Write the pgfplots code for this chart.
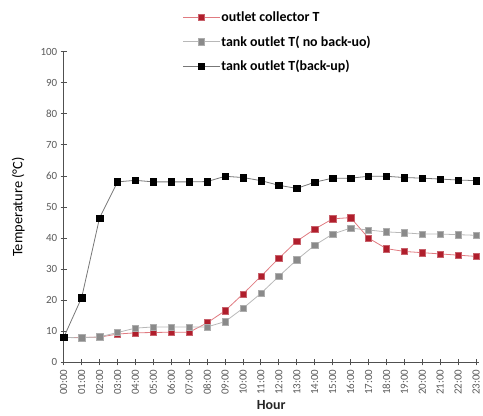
\documentclass[border=0pt]{standalone}
\usepackage{pgfplots}
\pgfplotsset{compat=1.18}
\usepackage{fontspec}
\setmainfont{Carlito}
\definecolor{redm}{HTML}{B01E2C}
\definecolor{redl}{HTML}{E07A80}
\definecolor{graym}{HTML}{8A8A8A}
\definecolor{grayl}{HTML}{B8B8B8}
\definecolor{blkl}{HTML}{777777}
\definecolor{axc}{HTML}{505050}
\definecolor{tickc}{HTML}{5A5A5A}
\begin{document}
\begin{tikzpicture}
\begin{axis}[
  scale only axis,
  width=417pt, height=312pt,
  xmin=0, xmax=23.15, ymin=0, ymax=100,
  axis lines*=left,
  axis line style={axc, line width=1.2pt},
  every tick/.style={axc, line width=0.9pt},
  tick align=center,
  major tick length=6pt,
  xtick={0,...,23},
  xticklabels={00:00,01:00,02:00,03:00,04:00,05:00,06:00,07:00,08:00,09:00,10:00,11:00,12:00,13:00,14:00,15:00,16:00,17:00,18:00,19:00,20:00,21:00,22:00,23:00},
  x tick label style={rotate=90, anchor=east, font=\fontsize{11}{12}\selectfont, text=tickc, xshift=-1pt},
  ytick={0,10,...,100},
  y tick label style={font=\fontsize{11}{12}\selectfont, text=tickc},
  /pgf/number format/assume math mode=true,
  xlabel={\textbf{Hour}},
  xlabel style={font=\fontsize{14}{16}\selectfont, text=black!85, yshift=1pt},
  ylabel={Temperature (°C)},
  ylabel style={font=\fontsize{14.5}{16}\selectfont, yshift=9pt},
  clip=false,
  legend cell align=left,
  legend style={at={(0.279,1.14)}, anchor=north west, draw=none, fill=none,
    font=\fontsize{14}{16}\selectfont\bfseries, row sep=11pt,
    nodes={inner sep=1pt}},
  legend image code/.code={
    \draw[#1, mark=none] (0pt,0pt) -- (37pt,0pt);
    \draw[#1, only marks] plot coordinates {(18pt,0pt)};
  },
]
\addplot[redl, line width=0.8pt, mark=square*, mark size=3.2pt, mark options={fill=redm, draw=redm!70!white, line width=0.4pt}]
coordinates {
(0,8) (1,8) (2,8.1) (3,9.1) (4,9.5) (5,9.6) (6,9.7) (7,9.7) (8,12.7) (9,16.6) (10,22) (11,27.7)
(12,33.5) (13,39) (14,42.9) (15,46.2) (16,46.6) (17,40) (18,36.6) (19,35.7) (20,35.3) (21,34.9) (22,34.5) (23,34.1)
};
\addlegendentry{outlet collector T}
\addplot[grayl, line width=0.8pt, mark=square*, mark size=3.2pt, mark options={fill=graym, draw=graym!70!white, line width=0.4pt}]
coordinates {
(0,8) (1,7.9) (2,8.2) (3,9.6) (4,11) (5,11.4) (6,11.4) (7,11.4) (8,11.4) (9,13.1) (10,17.4) (11,22.2)
(12,27.7) (13,33) (14,37.7) (15,41.3) (16,43.2) (17,42.6) (18,42) (19,41.7) (20,41.3) (21,41.3) (22,41.1) (23,40.9)
};
\addlegendentry{tank outlet T( no back-uo)}
\addplot[blkl, line width=0.8pt, mark=square*, mark size=3.2pt, mark options={fill=black, draw=black, line width=0.4pt}]
coordinates {
(0,8) (1,20.8) (2,46.5) (3,58.1) (4,58.6) (5,58.1) (6,58.1) (7,58.1) (8,58.2) (9,59.9) (10,59.5) (11,58.5)
(12,57) (13,56) (14,58) (15,59.3) (16,59.3) (17,59.9) (18,59.9) (19,59.5) (20,59.3) (21,59) (22,58.7) (23,58.5)
};
\addlegendentry{tank outlet T(back-up)}
\end{axis}
\path[use as bounding box] (-64pt,-53pt) rectangle (419pt,364pt);
\end{tikzpicture}
\end{document}
